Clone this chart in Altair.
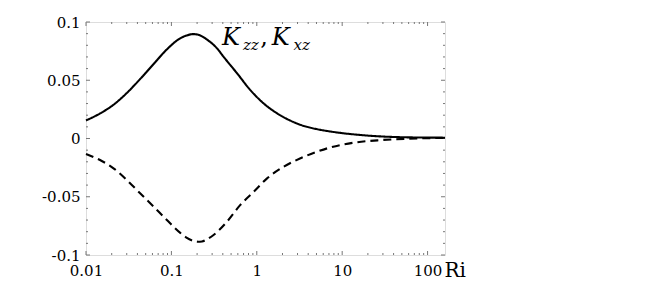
import altair as alt
import pandas as pd

# ---- data ----
ri_zz = [0.01, 0.0146, 0.021, 0.030, 0.043, 0.062, 0.0885, 0.127, 0.15, 0.18, 0.215, 0.26, 0.342,
         0.408, 0.587, 0.84, 1.2, 1.73, 2.48, 3.55, 5.1, 7.0, 9.6, 16.4, 34, 70, 160]
k_zz = [0.0155, 0.0215, 0.0290, 0.0390, 0.0510, 0.0640, 0.0765, 0.0860, 0.0884, 0.0896, 0.0886, 0.0850, 0.0774,
        0.0702, 0.0560, 0.0416, 0.0302, 0.0216, 0.0153, 0.0108, 0.0080, 0.0062, 0.0048, 0.0030,
        0.0015, 0.0009, 0.0007]

ri_xz = [0.01, 0.0146, 0.021, 0.030, 0.043, 0.062, 0.0885, 0.127, 0.15, 0.18, 0.205, 0.228, 0.26, 0.312,
         0.448, 0.642, 0.92, 1.32, 2.07, 3.25, 5.1, 7.0, 13.7, 28, 60, 160]
k_xz = [-0.0133, -0.0185, -0.0256, -0.0356, -0.047, -0.0585, -0.070, -0.0810, -0.0850, -0.0878, -0.0886,
        -0.0884, -0.0866, -0.0828, -0.0714, -0.057, -0.0457, -0.0342, -0.0242, -0.017, -0.0113, -0.0080,
        -0.0036, -0.0014, -0.0002, 0.0005]

x_major = [0.01, 0.1, 1, 10, 100]
x_minor = [m * d for d in [0.01, 0.1, 1, 10] for m in range(2, 10)]
y_major = [-0.1, -0.05, 0, 0.05, 0.1]
y_minor = [v / 100 for v in range(-9, 10) if v % 5 != 0]

ann_text = ["K", "zz", ",", "K", "xz"]
ann_ri = [0.391, 0.689, 1.10, 1.50, 2.70]
ann_k = [0.0803, 0.0760, 0.0803, 0.0803, 0.0760]
ann_size = [24, 15, 24, 24, 15]
ann_style = ["italic", "italic", "normal", "italic", "italic"]

W, H = 359, 233
FONT = "DejaVu Serif"

lines = pd.concat([
    pd.DataFrame({"Ri": ri_zz, "K": k_zz, "series": "Kzz"}),
    pd.DataFrame({"Ri": ri_xz, "K": k_xz, "series": "Kxz"}),
])

xscale = alt.Scale(type="log", domain=[0.01, 160], nice=False)
yscale = alt.Scale(domain=[-0.1, 0.1], nice=False, zero=False)

x_axis = alt.Axis(values=x_major, labelExpr="datum.value >= 1 ? format(datum.value, 'd') : format(datum.value, '')",
                  ticks=False, tickSize=0, domain=False, grid=False,
                  labelFont=FONT, labelFontSize=15, labelColor="black",
                  labelBaseline="alphabetic", labelPadding=20.5, labelFlush=False,
                  title="Ri", titleFont=FONT, titleFontSize=20, titleFontWeight="normal",
                  titleColor="black", titleX=358, titleY=21, titleAlign="left",
                  titleBaseline="alphabetic", titleAnchor="start")
y_axis = alt.Axis(values=y_major,
                  labelExpr="datum.value == 0 ? '0' : (datum.value < 0 ? '-' + format(-datum.value, '') : format(datum.value, ''))",
                  ticks=False, tickSize=0, domain=False, grid=False,
                  labelFont=FONT, labelFontSize=15, labelColor="black",
                  labelPadding=6, labelFlush=False, title=None)

X = alt.X("Ri:Q", scale=xscale, axis=x_axis)
Y = alt.Y("K:Q", scale=yscale, axis=y_axis)

line_layer = alt.Chart(lines).mark_line(color="black", strokeWidth=2.1, interpolate="monotone").encode(
    x=X, y=Y,
    strokeDash=alt.StrokeDash("series:N", scale=alt.Scale(domain=["Kzz", "Kxz"], range=[[1, 0], [8, 5]]), legend=None),
    detail="series:N",
)

TICK = "#777"
xmaj = pd.DataFrame({"Ri": x_major})
xmin = pd.DataFrame({"Ri": x_minor})
ymaj = pd.DataFrame({"K": y_major})
ymin = pd.DataFrame({"K": y_minor})

def xticks(df, size):
    b = alt.Chart(df).mark_rule(color=TICK, strokeWidth=1).encode(x=X, y=alt.value(H), y2=alt.value(H - size))
    t = alt.Chart(df).mark_rule(color=TICK, strokeWidth=1).encode(x=X, y=alt.value(0), y2=alt.value(size))
    return b + t

def yticks(df, size):
    l = alt.Chart(df).mark_rule(color=TICK, strokeWidth=1).encode(y=Y, x=alt.value(0), x2=alt.value(size))
    r = alt.Chart(df).mark_rule(color=TICK, strokeWidth=1).encode(y=Y, x=alt.value(W), x2=alt.value(W - size))
    return l + r

ann = pd.DataFrame({"t": ann_text, "Ri": ann_ri, "K": ann_k})
ann_layers = []
for i in range(len(ann_text)):
    ann_layers.append(
        alt.Chart(ann.iloc[[i]]).mark_text(align="left", baseline="alphabetic", font=FONT,
                                          fontSize=ann_size[i], fontStyle=ann_style[i], color="black").encode(
            x=X, y=Y, text="t:N")
    )

chart = alt.layer(
    xticks(xmin, 2), xticks(xmaj, 4), yticks(ymin, 2), yticks(ymaj, 4),
    line_layer, *ann_layers
).properties(
    width=W, height=H,
    autosize=alt.AutoSizeParams(type="none"),
    padding={"left": 78, "top": 14, "right": 190, "bottom": 25},
).configure_view(stroke="#666", strokeWidth=1).configure(background="white")

chart.save("out.html", embed_options={"renderer": "svg", "actions": False})
